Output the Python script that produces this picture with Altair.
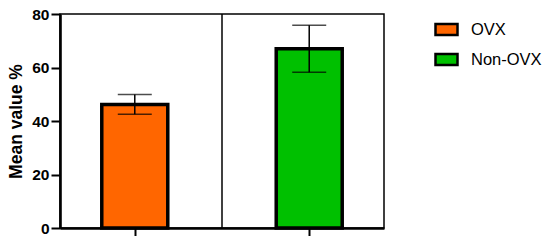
import altair as alt
import pandas as pd

groups = ["OVX", "Non-OVX"]
positions = [1, 2]
means = [46.2, 67.0]
errors = [3.7, 8.8]
colors = ["#FF6600", "#00C000"]
y_ticks = [0, 20, 40, 60, 80]
divider = [1.5]

df = pd.DataFrame({
    "group": groups,
    "pos": positions,
    "mean": means,
    "lo": [m - e for m, e in zip(means, errors)],
    "hi": [m + e for m, e in zip(means, errors)],
})
div_df = pd.DataFrame({"d": divider})

FONT = "Liberation Sans"

xscale = alt.Scale(domain=[0.6, 2.4], nice=False, zero=False)
xaxis = alt.Axis(values=positions, labels=False, title=None, grid=False,
                 tickSize=10, tickWidth=2, tickColor="black",
                 domainWidth=2.6, domainColor="black")
yscale = alt.Scale(domain=[0, 80], nice=False)
yaxis = alt.Axis(values=y_ticks, title="Mean value %", grid=False,
                 tickSize=9, tickWidth=2, tickColor="black",
                 domainWidth=2.6, domainColor="black",
                 labelFont=FONT, labelFontSize=15.5, labelFontWeight="bold",
                 labelColor="black", labelPadding=2,
                 titleFont=FONT, titleFontSize=17.5, titleFontWeight="bold",
                 titleColor="black", titlePadding=6)

divider_rule = alt.Chart(div_df).mark_rule(color="black", strokeWidth=1.5).encode(
    x=alt.X("d:Q", scale=xscale, axis=xaxis)
)

bars = alt.Chart(df).mark_bar(size=66, stroke="black", strokeWidth=3.5).encode(
    x=alt.X("pos:Q", scale=xscale, axis=xaxis),
    y=alt.Y("mean:Q", scale=yscale, axis=yaxis),
    color=alt.Color("group:N", scale=alt.Scale(domain=groups, range=colors),
                    sort=groups,
                    legend=alt.Legend(title=None, orient="none", legendX=374, legendY=3,
                                      symbolType="M-1,-0.5H1V0.5H-1Z", symbolSize=484,
                                      symbolStrokeColor="black", symbolStrokeWidth=2.5,
                                      labelFont=FONT, labelFontSize=16.5, labelColor="black",
                                      labelOffset=12, rowPadding=7, padding=0)),
)

err_rule = alt.Chart(df).mark_rule(color="black", strokeWidth=1.5).encode(
    x=alt.X("pos:Q", scale=xscale, axis=xaxis),
    y=alt.Y("lo:Q", scale=yscale, axis=yaxis),
    y2="hi:Q",
)

caps = alt.Chart(df).transform_fold(["lo", "hi"], as_=["k", "v"]).mark_tick(
    orient="horizontal", size=34, thickness=1.5, color="black"
).encode(
    x=alt.X("pos:Q", scale=xscale, axis=xaxis),
    y=alt.Y("v:Q", scale=yscale, axis=yaxis),
)

chart = alt.layer(divider_rule, bars, err_rule, caps).properties(
    width=324, height=214,
    autosize=alt.AutoSizeParams(type="none"),
    padding={"left": 52, "top": 6, "right": 158, "bottom": 8},
).configure_view(stroke="black", strokeWidth=1.5)

chart.save("out.html", embed_options={"renderer": "svg", "actions": False})
